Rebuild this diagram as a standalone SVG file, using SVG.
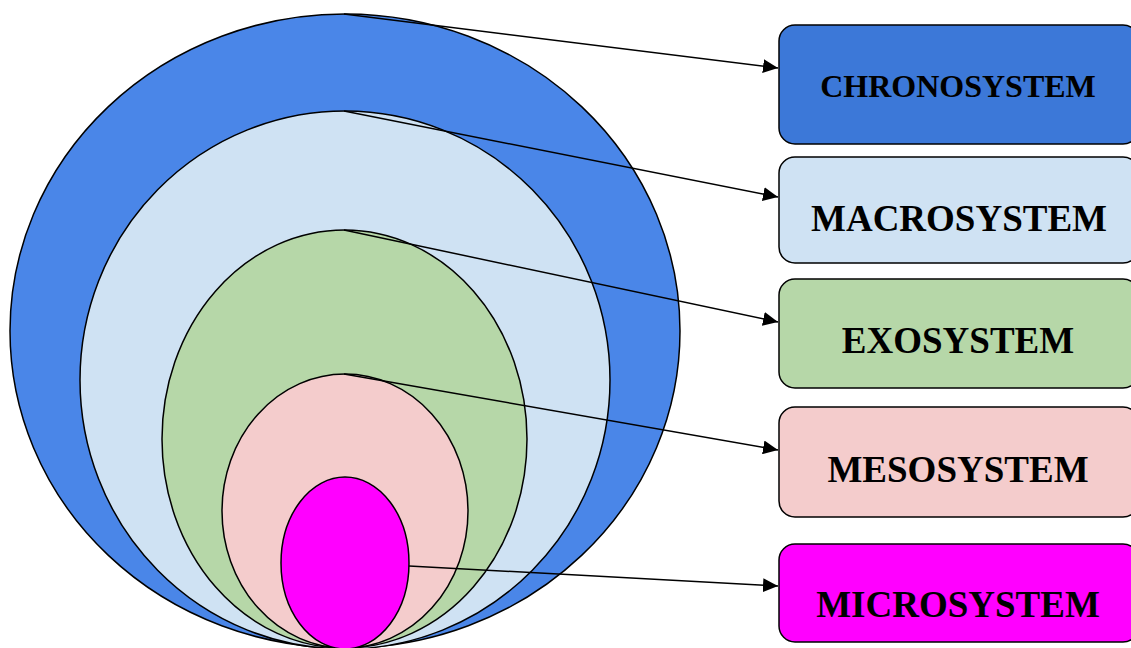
<svg xmlns="http://www.w3.org/2000/svg" width="1131" height="648" viewBox="0 0 1131 648">
<defs>
<style>
.sh{stroke:#000;stroke-width:1.5}
.box{stroke:#000;stroke-width:1.5}
.lbl{font-family:"Liberation Serif","Times New Roman",serif;font-weight:bold;fill:#000;text-anchor:middle}
.con{stroke:#000;stroke-width:1.5;fill:none;marker-end:url(#ah)}
</style>
<marker id="ah" markerWidth="15" markerHeight="14" refX="15" refY="7" orient="auto" markerUnits="userSpaceOnUse">
<path d="M0,0 L15,7 L0,14 Z" fill="#000"/>
</marker>
</defs>
<rect width="1131" height="648" fill="#fff"/>
<g id="chrono-ellipse"><ellipse class="sh" cx="345" cy="331" rx="335" ry="317" fill="#4a86e8"/></g>
<g id="macro-ellipse"><ellipse class="sh" cx="345" cy="380" rx="265" ry="269" fill="#cfe2f3"/></g>
<g id="exo-ellipse"><ellipse class="sh" cx="344.5" cy="439" rx="182.5" ry="209" fill="#b6d7a8"/></g>
<g id="meso-ellipse"><ellipse class="sh" cx="345" cy="511" rx="123" ry="137" fill="#f4cccc"/></g>
<g id="micro-ellipse"><ellipse class="sh" cx="345" cy="563" rx="64" ry="86" fill="#ff00ff"/></g>
<g id="chronosystem"><rect class="box" x="779" y="25" width="360" height="119" rx="16" fill="#3c78d8"/><text class="lbl" x="958" y="97" font-size="32">CHRONOSYSTEM</text></g>
<g id="macrosystem"><rect class="box" x="779" y="157" width="360" height="106" rx="16" fill="#cfe2f3"/><text class="lbl" x="959" y="231" font-size="37">MACROSYSTEM</text></g>
<g id="exosystem"><rect class="box" x="779" y="279" width="360" height="109" rx="16" fill="#b6d7a8"/><text class="lbl" x="958" y="353" font-size="37">EXOSYSTEM</text></g>
<g id="mesosystem"><rect class="box" x="779" y="407" width="360" height="110" rx="16" fill="#f4cccc"/><text class="lbl" x="958" y="482" font-size="37">MESOSYSTEM</text></g>
<g id="microsystem"><rect class="box" x="779" y="544" width="360" height="98" rx="16" fill="#ff00ff"/><text class="lbl" x="958" y="617" font-size="37">MICROSYSTEM</text></g>
<g id="connectors">
<line class="con" x1="344" y1="14" x2="778" y2="68"/>
<line class="con" x1="344" y1="111" x2="778" y2="197"/>
<line class="con" x1="344" y1="230" x2="778" y2="322"/>
<line class="con" x1="344" y1="374" x2="778" y2="450"/>
<line class="con" x1="409" y1="566" x2="778" y2="586"/>
</g>
</svg>
